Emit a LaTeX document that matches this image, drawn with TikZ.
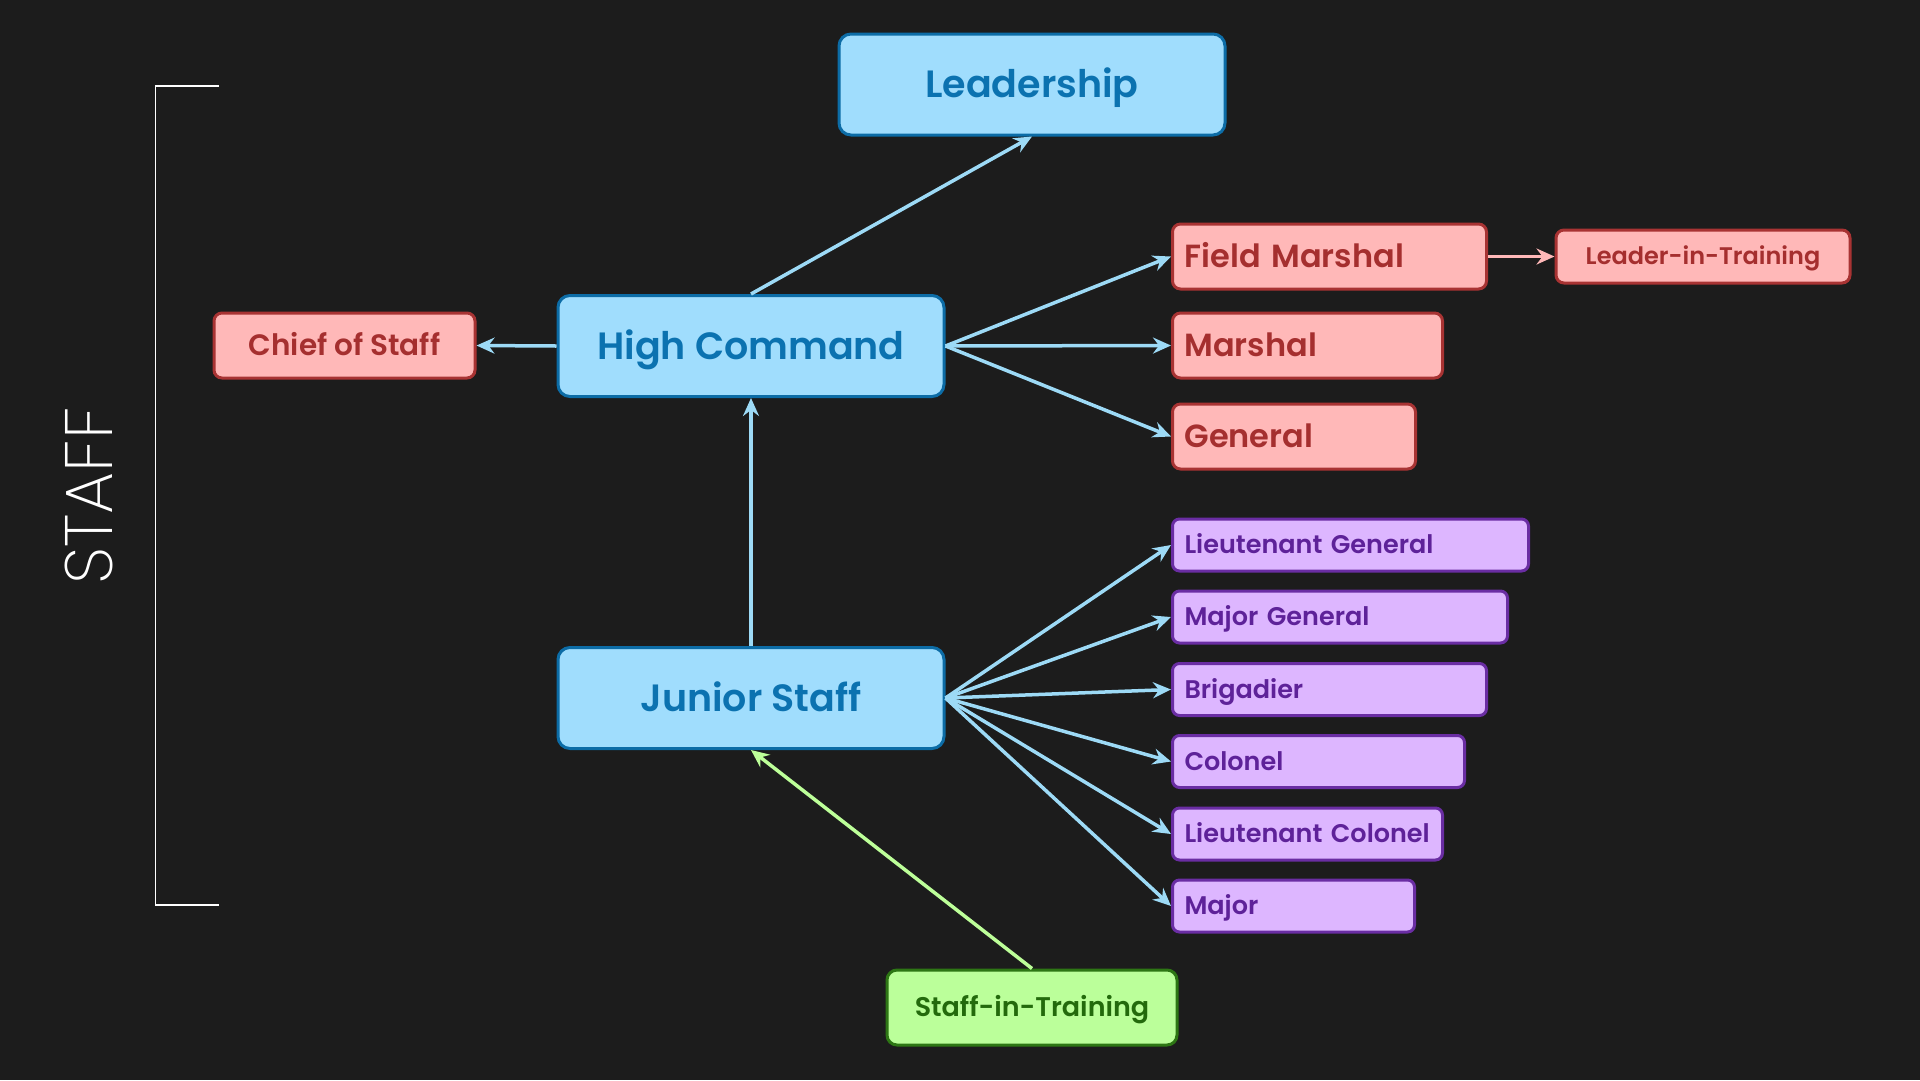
\documentclass[tikz,border=0pt]{standalone}
\usepackage{fontspec}
\setmainfont{Poppins}[BoldFont={Poppins SemiBold}]
\newfontfamily\thinfont{Poppins ExtraLight}
\usepackage{tikz}
\usetikzlibrary{arrows.meta}
\usetikzlibrary{positioning}
\definecolor{bg}{HTML}{1C1C1C}
\definecolor{cmdfill}{HTML}{A0DDFD}
\definecolor{cmdline}{HTML}{0C6CA6}
\definecolor{cmdtext}{HTML}{0B72B0}
\definecolor{rankfill}{HTML}{FFB8B8}
\definecolor{rankline}{HTML}{A83333}
\definecolor{ranktext}{HTML}{A52F2F}
\definecolor{jrfill}{HTML}{DDB6FF}
\definecolor{jrline}{HTML}{6A2DA3}
\definecolor{jrtext}{HTML}{5E2299}
\definecolor{sitfill}{HTML}{BBFF9A}
\definecolor{sitline}{HTML}{2D7614}
\definecolor{sittext}{HTML}{236A0C}
\definecolor{linkblue}{HTML}{9DDAF6}
\definecolor{linkpink}{HTML}{FFB8B8}
\definecolor{linkgreen}{HTML}{BDFF99}
\tikzset{
    cmdbox/.style={draw=cmdline, fill=cmdfill, text=cmdtext, line width=3pt,
        rounded corners=12pt, minimum width=386pt, minimum height=101pt,
        text height=26.5pt, text depth=0pt,
        font=\bfseries\fontsize{38}{42}\selectfont},
    rankbox/.style={draw=rankline, fill=rankfill, text=ranktext, line width=3pt,
        rounded corners=8pt, minimum height=65pt, anchor=west, inner xsep=12pt,
        text height=22.3pt, text depth=0pt,
        align=left, font=\bfseries\fontsize{32}{36}\selectfont},
    smallrank/.style={draw=rankline, fill=rankfill, text=ranktext, line width=3pt,
        rounded corners=8pt, text depth=0pt},
    jrbox/.style={draw=jrline, fill=jrfill, text=jrtext, line width=3pt,
        rounded corners=7pt, minimum height=52pt, anchor=west, inner xsep=12pt,
        text height=17.8pt, text depth=0pt,
        align=left, font=\bfseries\fontsize{25.5}{29}\selectfont},
    sitbox/.style={draw=sitline, fill=sitfill, text=sittext, line width=3pt,
        rounded corners=10pt, minimum width=290pt, minimum height=75pt,
        text height=18.8pt, text depth=0pt,
        font=\bfseries\fontsize{27}{31}\selectfont},
    link/.style={draw=linkblue, line width=3.5pt,
        -{Stealth[length=18pt, width=16pt, inset=6pt]}},
    pinklink/.style={link, draw=linkpink},
    greenlink/.style={link, draw=linkgreen},
}

\begin{document}
\begin{tikzpicture}[x=1pt, y=-1pt]
		\fill[bg] (0,0) rectangle (1920,1080);
		\useasboundingbox (0,0) rectangle (1920,1080);
		%
		\draw[white, line width=1.5pt] (219,86) -- (155.5,86) -- (155.5,905) -- (219,905);
		\node[white, rotate=90, font=\thinfont\fontsize{67}{70}\selectfont] (staff) at (89,496) {STAFF};
		%
		\node[cmdbox] (lead) at (1032,84.5) {Leadership};
		\node[cmdbox] (hc) at (751,346) {High Command};
		\node[cmdbox] (js) at (751,698) {Junior Staff};
		\node[smallrank, minimum width=261pt, minimum height=65pt, text height=20.5pt,
			font=\bfseries\fontsize{29.5}{33}\selectfont] (cos) at (344.5,345.5) {Chief of Staff};
		%
		\node[rankbox, text width=290pt] (fm) at (1171,256.5) {Field Marshal};
		\node[smallrank, minimum width=294pt, minimum height=53pt, text height=16.7pt,
			font=\bfseries\fontsize{24}{28}\selectfont] (lit) at (1703,256.5) {Leader-in-Training};
		\node[rankbox, text width=246pt] (mar) at (1171,345.5) {Marshal};
		\node[rankbox, text width=219pt] (gen) at (1171,436.5) {General};
		%
		\node[jrbox, text width=332pt] (ltg) at (1171,545) {Lieutenant General};
		\node[jrbox, text width=311pt] (mjg) at (1171,617) {Major General};
		\node[jrbox, text width=290pt] (brig) at (1171,689.5) {Brigadier};
		\node[jrbox, text width=268pt] (col) at (1171,761.5) {Colonel};
		\node[jrbox, text width=246pt] (ltc) at (1171,834) {Lieutenant Colonel};
		\node[jrbox, text width=218pt] (maj) at (1171,906) {Major};
		%
		\node[sitbox] (sit) at (1032,1007.5) {Staff-in-Training};
		%
		\draw[link] (hc.north) -- (lead.south);
		\draw[link] (hc.west) -- (cos.east);
		\draw[link] (hc.east) -- (fm.west);
		\draw[link] (hc.east) -- (mar.west);
		\draw[link] (hc.east) -- (gen.west);
		\draw[pinklink] (fm.east) -- (lit.west);
		\draw[link] (js.north) -- (hc.south);
		%
		\draw[link] (js.east) -- (ltg.west);
		\draw[link] (js.east) -- (mjg.west);
		\draw[link] (js.east) -- (brig.west);
		\draw[link] (js.east) -- (col.west);
		\draw[link] (js.east) -- (ltc.west);
		\draw[link] (js.east) -- (maj.west);
		\draw[greenlink] (sit.north) -- (js.south);
	\end{tikzpicture}
\end{document}
